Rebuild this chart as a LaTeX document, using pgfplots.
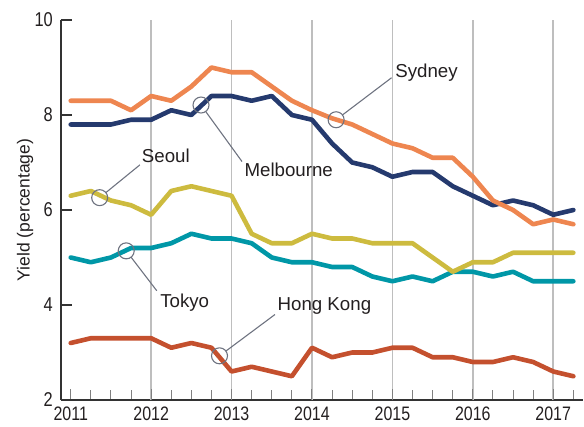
\documentclass[border=0pt]{standalone}
\usepackage{pgfplots}
\pgfplotsset{compat=1.18}
\usepackage{fontspec}
\setmainfont{Liberation Sans}
\newfontfamily\tickfont[FakeStretch=0.82]{Liberation Sans}
\definecolor{cSyd}{RGB}{238,134,80}
\definecolor{cMel}{RGB}{37,58,110}
\definecolor{cSeo}{RGB}{205,187,63}
\definecolor{cTok}{RGB}{0,151,167}
\definecolor{cHK}{RGB}{196,80,46}
\definecolor{cAnn}{RGB}{110,115,128}
\definecolor{cTxt}{RGB}{35,31,32}
\definecolor{cGrid}{RGB}{190,190,190}

\pgfplotstableread{
x        syd   mel   seo   tok   hk
2011.00  8.3   7.8   6.3   5.0   3.2
2011.25  8.3   7.8   6.4   4.9   3.3
2011.50  8.3   7.8   6.2   5.0   3.3
2011.75  8.1   7.9   6.1   5.2   3.3
2012.00  8.4   7.9   5.9   5.2   3.3
2012.25  8.3   8.1   6.4   5.3   3.1
2012.50  8.6   8.0   6.5   5.5   3.2
2012.75  9.0   8.4   6.4   5.4   3.1
2013.00  8.9   8.4   6.3   5.4   2.6
2013.25  8.9   8.3   5.5   5.3   2.7
2013.50  8.6   8.4   5.3   5.0   2.6
2013.75  8.3   8.0   5.3   4.9   2.5
2014.00  8.1   7.9   5.5   4.9   3.1
2014.25  7.93  7.4   5.4   4.8   2.9
2014.50  7.8   7.0   5.4   4.8   3.0
2014.75  7.6   6.9   5.3   4.6   3.0
2015.00  7.4   6.7   5.3   4.5   3.1
2015.25  7.3   6.8   5.3   4.6   3.1
2015.50  7.1   6.8   5.0   4.5   2.9
2015.75  7.1   6.5   4.7   4.7   2.9
2016.00  6.7   6.3   4.9   4.7   2.8
2016.25  6.2   6.1   4.9   4.6   2.8
2016.50  6.0   6.2   5.1   4.7   2.9
2016.75  5.7   6.1   5.1   4.5   2.8
2017.00  5.8   5.9   5.1   4.5   2.6
2017.25  5.7   6.0   5.1   4.5   2.5
}\datatable

\begin{document}
\begin{tikzpicture}
\path[use as bounding box] (-61pt,-26pt) rectangle (523pt,400pt);
\begin{axis}[
  at={(0pt,0pt)}, anchor=south west,
  scale only axis, width=522pt, height=380pt,
  xmin=2010.879, xmax=2017.37,
  ymin=2, ymax=10,
  axis x line*=bottom, axis y line*=left,
  axis line style={draw=black!80, line width=1.5pt},
  xtick={2011,2012,2013,2014,2015,2016,2017},
  xticklabels={2011,2012,2013,2014,2015,2016,2017},
  minor xtick={2011.25,2011.5,...,2017.25},
  ytick={2,4,6,8,10},
  tick align=inside,
  major tick length=11pt, minor tick length=10pt,
  x tick style={draw=black!50, line width=1pt},
  y tick style={draw=black!80, line width=1.4pt},
  extra x ticks={2012,2013,2014,2015,2016,2017},
  extra x tick labels={},
  extra x tick style={grid=major, tick style={draw=none},
    major grid style={draw=cGrid, line width=1.8pt}},
  /pgf/number format/assume math mode=true,
  xticklabel style={font=\tickfont\fontsize{19.5}{20}\selectfont, text=cTxt, anchor=north, inner sep=0pt, yshift=-7pt},
  yticklabel style={font=\tickfont\fontsize{20}{20}\selectfont, text=cTxt, anchor=east, inner sep=0pt, xshift=-8pt},
  ylabel={Yield (percentage)},
  ylabel style={font=\fontsize{17.5}{18}\selectfont, text=cTxt, at={(axis description cs:-0.069,0.5)}, anchor=center},
  clip=false,
  every axis plot/.append style={line width=4.6pt, line join=round, line cap=round, mark=none},
]
\addplot[cHK]  table[x=x, y=hk]  {\datatable};
\addplot[cTok] table[x=x, y=tok] {\datatable};
\addplot[cSeo] table[x=x, y=seo] {\datatable};
\addplot[cMel] table[x=x, y=mel] {\datatable};
\addplot[cSyd] table[x=x, y=syd] {\datatable};

\begin{scope}[cAnn, line width=1.1pt]
  \draw (axis cs:2014.30,7.90) circle[radius=8pt];
  \draw[shorten <=8pt] (axis cs:2014.30,7.90) -- (axis cs:2014.99,8.785);
  \draw (axis cs:2012.62,8.21) circle[radius=8pt];
  \draw[shorten <=8pt] (axis cs:2012.62,8.21) -- (axis cs:2013.13,7.02);
  \draw (axis cs:2011.36,6.26) circle[radius=8pt];
  \draw[shorten <=8pt] (axis cs:2011.36,6.26) -- (axis cs:2011.86,6.95);
  \draw (axis cs:2011.69,5.14) circle[radius=8pt];
  \draw[shorten <=8pt] (axis cs:2011.69,5.14) -- (axis cs:2012.07,4.30);
  \draw (axis cs:2012.85,2.93) circle[radius=8pt];
  \draw[shorten <=8pt] (axis cs:2012.85,2.93) -- (axis cs:2013.54,3.80);
\end{scope}
\begin{scope}[every node/.style={anchor=west, inner sep=0pt, text=cTxt, font=\fontsize{18.7}{20}\selectfont}]
  \node at (axis cs:2015.034,8.895) {Sydney};
  \node at (axis cs:2013.159,6.842) {Melbourne};
  \node at (axis cs:2011.883,7.139) {Seoul};
  \node at (axis cs:2012.111,4.053) {Tokyo};
  \node at (axis cs:2013.570,3.981) {Hong Kong};
\end{scope}
\end{axis}
\end{tikzpicture}
\end{document}
